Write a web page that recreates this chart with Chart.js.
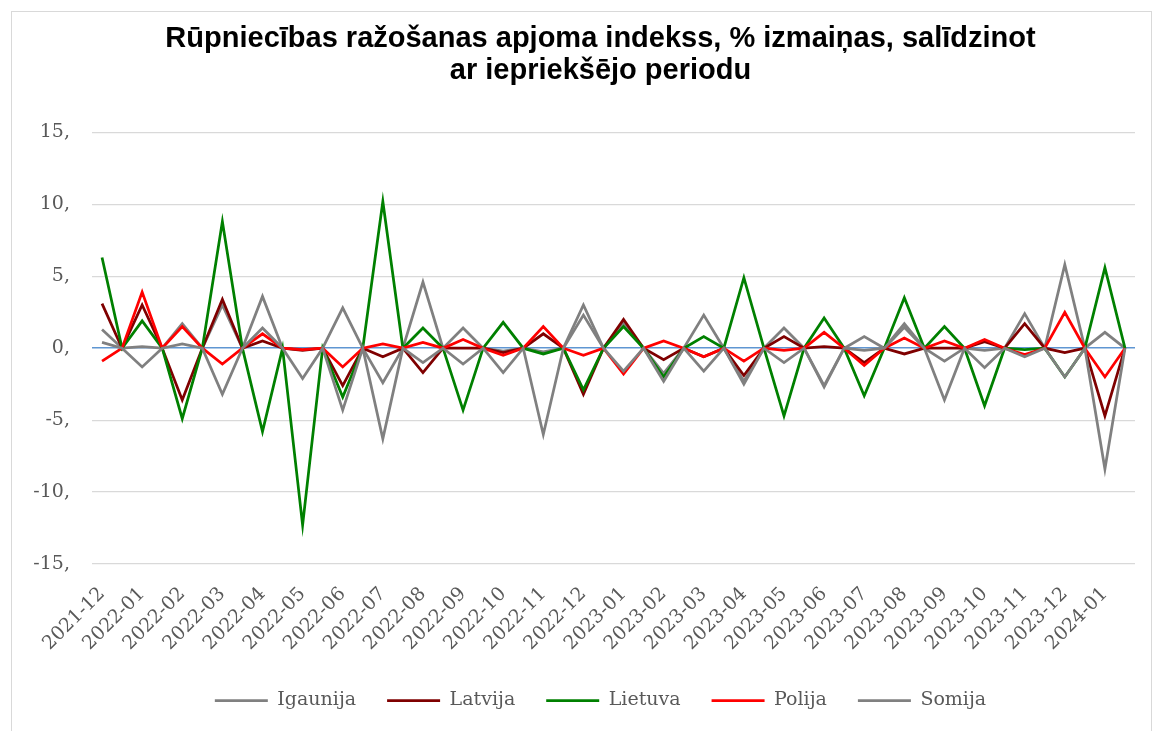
<!DOCTYPE html>
<html>
<head>
<meta charset="utf-8">
<script src="https://cdn.jsdelivr.net/npm/chart.js@4/dist/chart.umd.min.js"></script>
<style>
  html, body { margin: 0; padding: 0; background: #fff; overflow: hidden; }
  #wrap { position: relative; width: 1161px; height: 731px; overflow: hidden; }
  #frame { position: absolute; left: 11px; top: 11px; width: 1141px; height: 730px; border: 1px solid #d9d9d9; box-sizing: border-box; }
  canvas { position: absolute; left: 0; top: 0; }
</style>
</head>
<body>
<div id="wrap">
  <div id="frame"></div>
  <canvas id="chart" width="1201" height="731"></canvas>
</div>
<script>
// each month is followed by an empty row that Excel plots as 0
const months = [
  '2021-12', '', '2022-01', '', '2022-02', '', '2022-03', '', '2022-04', '', '2022-05', '', '2022-06', '',
  '2022-07', '', '2022-08', '', '2022-09', '', '2022-10', '', '2022-11', '', '2022-12', '', '2023-01', '',
  '2023-02', '', '2023-03', '', '2023-04', '', '2023-05', '', '2023-06', '', '2023-07', '', '2023-08', '',
  '2023-09', '', '2023-10', '', '2023-11', '', '2023-12', '', '2024-01', ''
];

const igaunija = [
  1.3, 0, 0.1, 0, 1.7, 0, 3.0, 0, 3.6, 0, -0.1, 0, 2.8, 0, -2.4, 0, 4.6, 0, 1.4, 0, -0.2, 0, -0.25, 0, 3.0, 0,
  1.75, 0, -1.75, 0, 2.3, 0, -2.3, 0, 1.4, 0, -2.6, 0, 0.8, 0, 1.7, 0, -0.9, 0, -0.15, 0, 2.4, 0, 5.8, 0, 1.1, 0
];
const latvija = [
  3.1, 0, 3.0, 0, -3.6, 0, 3.4, 0, 0.5, 0, -0.15, 0, -2.6, 0, -0.6, 0, -1.7, 0, 0.0, 0, -0.3, 0, 1.0, 0, -3.2, 0,
  2.0, 0, -0.8, 0, -0.6, 0, -1.9, 0, 0.8, 0, 0.1, 0, -1.0, 0, -0.4, 0, 0.0, 0, 0.45, 0, 1.7, 0, -0.3, 0, -4.7, 0
];
const lietuva = [
  6.3, 0, 1.9, 0, -4.9, 0, 8.8, 0, -5.8, 0, -12.3, 0, -3.4, 0, 10.2, 0, 1.4, 0, -4.3, 0, 1.8, 0, -0.4, 0, -2.9, 0,
  1.5, 0, -2.0, 0, 0.8, 0, 4.9, 0, -4.7, 0, 2.1, 0, -3.3, 0, 3.5, 0, 1.5, 0, -4.0, 0, -0.1, 0, -2.0, 0, 5.6, 0
];
const polija = [
  -0.9, 0, 3.9, 0, 1.5, 0, -1.1, 0, 1.0, 0, -0.1, 0, -1.3, 0, 0.3, 0, 0.4, 0, 0.6, 0, -0.5, 0, 1.5, 0, -0.5, 0,
  -1.8, 0, 0.5, 0, -0.6, 0, -0.9, 0, -0.15, 0, 1.1, 0, -1.2, 0, 0.7, 0, 0.5, 0, 0.6, 0, -0.45, 0, 2.5, 0, -2.0, 0
];
const somija = [
  0.4, 0, -1.3, 0, 0.3, 0, -3.2, 0, 1.4, 0, -2.1, 0, -4.3, 0, -6.3, 0, -1.0, 0, -1.1, 0, -1.7, 0, -6.0, 0, 2.3, 0,
  -1.6, 0, -2.3, 0, -1.6, 0, -2.5, 0, -1.0, 0, -2.7, 0, -0.15, 0, 1.45, 0, -3.6, 0, -1.35, 0, -0.6, 0, -2.0, 0, -8.4, 0
];

const yTicks = [-15, -10, -5, 0, 5, 10, 15];

const serif = 'DejaVu Serif';
const textGray = '#595959';

function line(label, data, color, order) {
  return {
    label: label,
    data: data,
    borderColor: color,
    backgroundColor: color,
    borderWidth: 2.75,
    pointRadius: 0,
    tension: 0,
    order: order
  };
}

const ctx = document.getElementById('chart').getContext('2d');
new Chart(ctx, {
  type: 'line',
  data: {
    labels: months,
    datasets: [
      line('Igaunija', igaunija, '#808080', 4),
      line('Latvija', latvija, '#7f0000', 3),
      line('Lietuva', lietuva, '#008000', 2),
      line('Polija', polija, '#ff0000', 1),
      line('Somija', somija, '#808080', 0)
    ]
  },
  options: {
    responsive: false,
    animation: false,
    // canvas is 40px wider than the window; the empty right axis keeps the plot where it is
    layout: { padding: { left: 26, right: 26, top: 8, bottom: 11 } },
    scales: {
      x: {
        offset: true,
        grid: { display: false, drawTicks: false },
        border: { display: false },
        afterFit: function(scale) { scale.height = 96; },
        ticks: {
          autoSkip: false,
          minRotation: 45,
          maxRotation: 45,
          padding: 19,
          color: textGray,
          font: { family: serif, size: 19 }
        }
      },
      y: {
        min: -15,
        max: 15,
        afterFit: function(scale) { scale.width = 66; },
        afterBuildTicks: function(scale) { scale.ticks = yTicks.map(v => ({ value: v })); },
        grid: {
          drawTicks: false,
          color: c => c.tick.value === 0 ? '#5f96d2' : '#d9d9d9',
          lineWidth: c => c.tick.value === 0 ? 1.5 : 1.25
        },
        border: { display: false },
        ticks: {
          padding: 22,
          color: textGray,
          font: { family: serif, size: 19 },
          callback: v => v + ','
        }
      },
      spacer: {
        type: 'linear',
        position: 'right',
        afterFit: function(scale) { scale.width = 40; },
        grid: { display: false, drawTicks: false },
        border: { display: false },
        ticks: { display: false }
      }
    },
    plugins: {
      title: {
        display: true,
        text: ['Rūpniecības ražošanas apjoma indekss, % izmaiņas, salīdzinot', 'ar iepriekšējo periodu'],
        color: '#000',
        font: { family: 'Liberation Sans', size: 29, weight: 'bold', lineHeight: 1.11 },
        padding: { top: 15, bottom: 45 }
      },
      legend: {
        position: 'bottom',
        reverse: true,
        labels: {
          usePointStyle: true,
          pointStyle: 'line',
          pointStyleWidth: 53,
          padding: 31,
          color: textGray,
          font: { family: serif, size: 19 }
        }
      },
      tooltip: { enabled: false }
    }
  }
});
</script>
</body>
</html>
